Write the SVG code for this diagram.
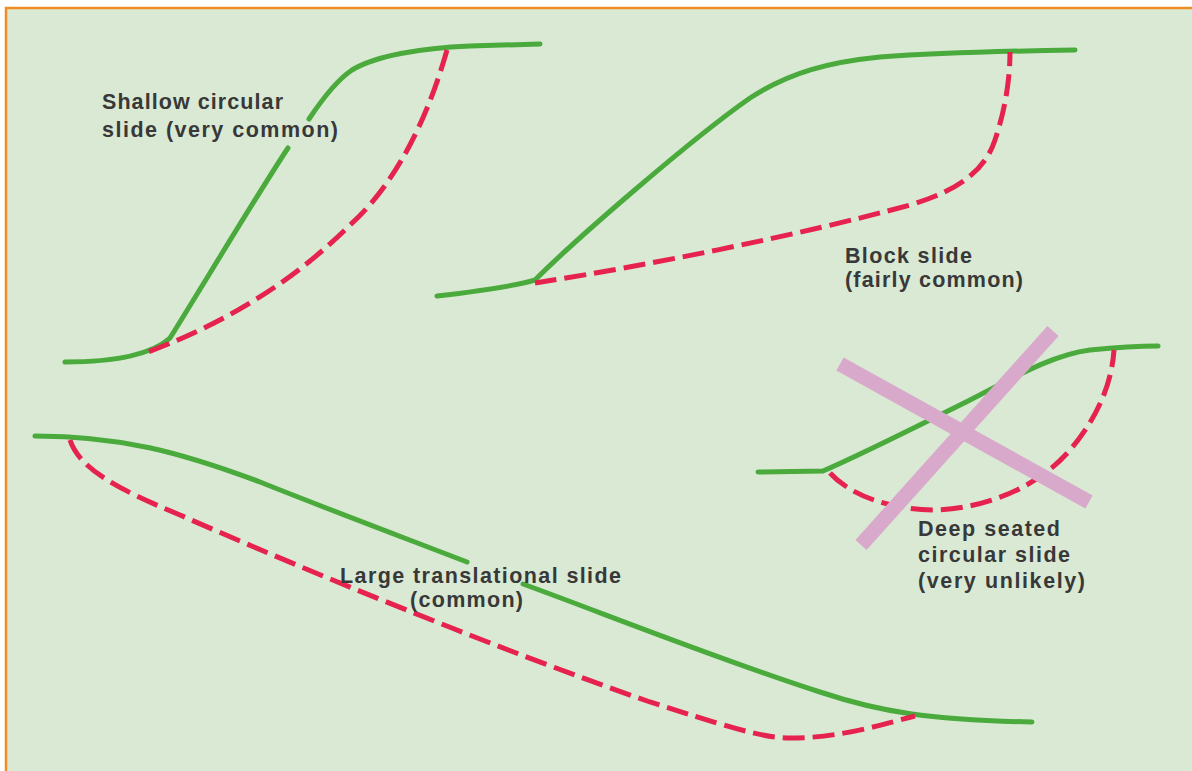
<svg xmlns="http://www.w3.org/2000/svg" width="1192" height="771" viewBox="0 0 1192 771">
  <defs>
    <style>
      .ground { fill: none; stroke: #4aaa3c; stroke-width: 5; stroke-linecap: round; stroke-linejoin: round; }
      .slip { fill: none; stroke: #e6224f; stroke-width: 5; stroke-dasharray: 22 8; stroke-linecap: butt; }
      .cross { fill: none; stroke: #d9a9cb; stroke-width: 15; stroke-linecap: butt; }
      .label { font-family: "Liberation Sans", Arial, sans-serif; font-size: 21.5px; font-weight: bold; fill: #383838; }
    </style>
  </defs>

  <!-- sheet -->
  <rect x="0" y="0" width="1192" height="771" fill="#ffffff"/>
  <rect x="6" y="8" width="1200" height="780" fill="#d9e9d4" stroke="#ef8e22" stroke-width="2.5"/>

  <g id="connectors">
    <!-- shallow circular slide -->
    <path class="ground" d="M65,362 C110,362 150,356 170,338 C200,290 260,190 288,148"/>
    <path class="ground" d="M309,119 C325,95 340,78 352,70 C375,56 420,48 470,46 L540,44"/>
    <path class="slip" d="M447,50 C430,110 400,180 350,225 C290,285 220,325 148,352"/>

    <!-- block slide -->
    <path class="ground" d="M437,296 C480,291 515,286 535,280 C575,240 690,140 750,98 C790,72 830,62 880,57 C950,52 1010,51 1075,50"/>
    <path class="slip" d="M535,283 C650,265 800,235 910,205 C960,190 985,170 995,140 C1005,110 1010,80 1010,52"/>

    <!-- deep seated circular slide -->
    <path class="ground" d="M758,472 L823,471 C860,455 920,425 960,405 C1010,380 1050,355 1090,350 C1120,347 1140,346 1158,346"/>
    <path class="slip" d="M830,473 C850,495 890,510 935,510 C990,508 1040,485 1070,450 C1100,415 1112,380 1114,350"/>

    <!-- large translational slide -->
    <path class="ground" d="M35,436 C120,436 180,452 260,482 C330,510 410,540 467,562"/>
    <path class="ground" d="M523,584 C600,612 720,660 820,692 C880,712 930,720 1032,722"/>
    <path class="slip" d="M70,440 C80,470 120,490 180,515 C300,568 500,650 650,702 C720,724 760,738 790,738 C840,738 880,725 915,716"/>
  </g>

  <!-- crossed-out mark over the deep seated case -->
  <g id="cross">
    <line class="cross" x1="840" y1="364" x2="1089" y2="502"/>
    <line class="cross" x1="1053" y1="331" x2="861" y2="545"/>
  </g>

  <g id="shallow-circular">
    <text class="label" x="102" y="109" textLength="181" lengthAdjust="spacing">Shallow circular</text>
    <text class="label" x="102" y="137" textLength="236" lengthAdjust="spacing">slide (very common)</text>
  </g>

  <g id="block-slide">
    <text class="label" x="845" y="263" textLength="127" lengthAdjust="spacing">Block slide</text>
    <text class="label" x="845" y="287" textLength="178" lengthAdjust="spacing">(fairly common)</text>
  </g>

  <g id="large-translational">
    <text class="label" x="340" y="583" textLength="281" lengthAdjust="spacing">Large translational slide</text>
    <text class="label" x="410" y="607" textLength="113" lengthAdjust="spacing">(common)</text>
  </g>

  <g id="deep-seated">
    <text class="label" x="918" y="536" textLength="142" lengthAdjust="spacing">Deep seated</text>
    <text class="label" x="918" y="562" textLength="152" lengthAdjust="spacing">circular slide</text>
    <text class="label" x="918" y="588" textLength="167" lengthAdjust="spacing">(very unlikely)</text>
  </g>
</svg>
